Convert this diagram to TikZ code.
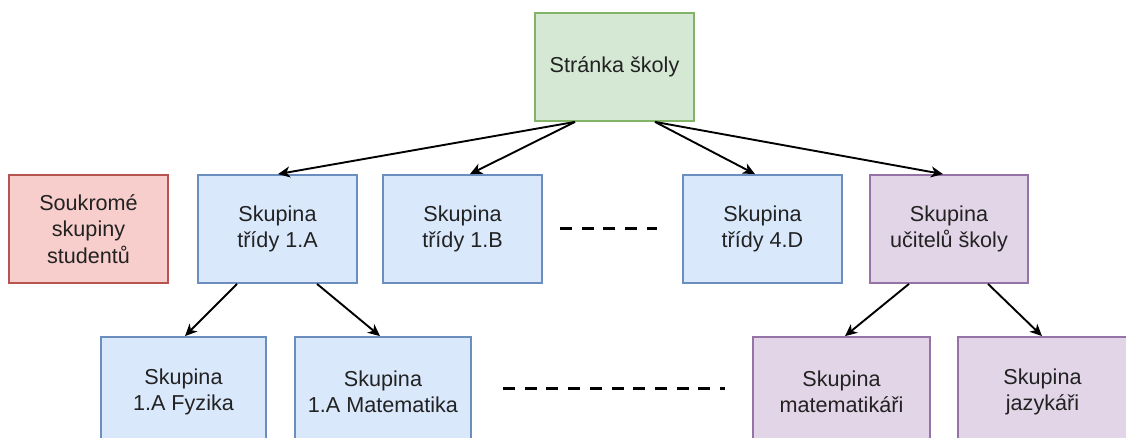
\documentclass[tikz,border=0pt]{standalone}
\usepackage{fontspec}
\setmainfont{Liberation Sans}
\usetikzlibrary{arrows.meta}

\definecolor{txt}{HTML}{222222}
\definecolor{greenfill}{HTML}{D5E8D4}\definecolor{greenline}{HTML}{82B366}
\definecolor{redfill}{HTML}{F8CECC}\definecolor{redline}{HTML}{B85450}
\definecolor{bluefill}{HTML}{DAE8FC}\definecolor{blueline}{HTML}{6C8EBF}
\definecolor{purplefill}{HTML}{E1D5E7}\definecolor{purpleline}{HTML}{9673A6}

\tikzset{
  box/.style={draw, line width=1.8pt, rectangle, align=center, text=txt,
    inner sep=0pt, minimum height=108pt,
    font=\fontsize{21.6}{26.5}\selectfont},
  greenbox/.style={box, fill=greenfill, draw=greenline},
  redbox/.style={box, fill=redfill, draw=redline},
  bluebox/.style={box, fill=bluefill, draw=blueline},
  purplebox/.style={box, fill=purplefill, draw=purpleline},
  link/.style={draw=black, line width=1.9pt,
    -{Stealth[length=12pt, width=11pt, inset=3.5pt]}},
  etc/.style={draw=black, line width=3pt, dash pattern=on 12pt off 9.7pt}
}

\begin{document}
\begin{tikzpicture}[x=1pt, y=-1pt]
  \path[use as bounding box, clip] (0,0) rectangle (1126,438);

  % top level: school page
  \node[greenbox, minimum width=159pt] (top) at (614.5,67) {Stránka školy};

  % second level
  \node[redbox, minimum width=159pt] (priv) at (88.5,229) {Soukromé\\skupiny\\studentů};
  \node[bluebox, minimum width=159pt] (a1) at (277.5,229) {Skupina\\třídy 1.A};
  \node[bluebox, minimum width=159pt] (b1) at (462.5,229) {Skupina\\třídy 1.B};
  \node[bluebox, minimum width=159pt] (d4) at (762.5,229) {Skupina\\třídy 4.D};
  \node[purplebox, minimum width=158pt] (uc) at (949,229) {Skupina\\učitelů školy};

  % third level
  \node[bluebox, minimum width=165pt, minimum height=110pt] (fy) at (183.5,392) {Skupina\\1.A Fyzika};
  \node[bluebox, minimum width=176pt, minimum height=110pt] (ma) at (383,392) {Skupina\\1.A Matematika};
  \node[purplebox, minimum width=177pt, minimum height=110pt] (mt) at (841.5,392) {Skupina\\matematikáři};
  \node[purplebox, minimum width=169pt, minimum height=110pt] (jz) at (1042.5,392) {Skupina\\jazykáři};

  % connectors
  \draw[link] ([xshift=-39.5pt]top.south) -- ([xshift=0.5pt]a1.north);
  \draw[link] ([xshift=-39.5pt]top.south) -- ([xshift=7.5pt]b1.north);
  \draw[link] ([xshift=40.5pt]top.south) -- ([xshift=-7.5pt]d4.north);
  \draw[link] ([xshift=40.5pt]top.south) -- ([xshift=-6pt]uc.north);
  \draw[link] ([xshift=-40.5pt]a1.south) -- ([xshift=1.5pt]fy.north);
  \draw[link] ([xshift=39.5pt]a1.south) -- ([xshift=-3pt]ma.north);
  \draw[link] ([xshift=-40pt]uc.south) -- ([xshift=3.5pt]mt.north);
  \draw[link] ([xshift=39pt]uc.south) -- ([xshift=-0.5pt]jz.north);

  % ellipsis marks between groups
  \coordinate (e1) at (560,229);
  \coordinate (e2) at (657,229);
  \coordinate (f1) at (503,388);
  \coordinate (f2) at (725,388);
  \draw[etc] (e1) -- (e2);
  \draw[etc] (f1) -- (f2);
\end{tikzpicture}
\end{document}
